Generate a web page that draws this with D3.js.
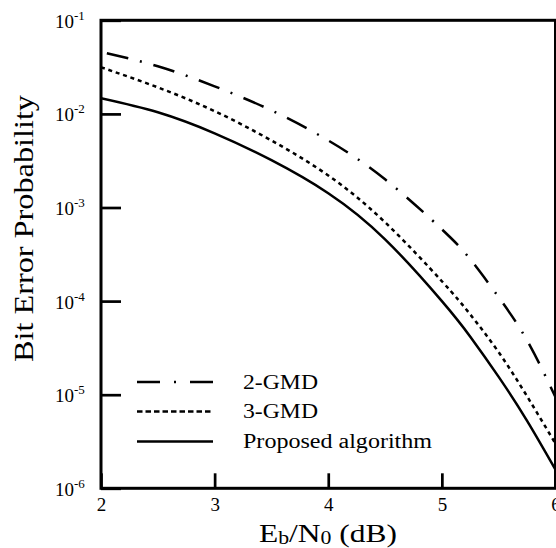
<!DOCTYPE html>
<html>
<head>
<meta charset="utf-8">
<script src="https://cdn.jsdelivr.net/npm/d3@7"></script>
<style>
  html, body { margin: 0; padding: 0; background: #fff; }
  svg { display: block; }
  text { font-family: "Liberation Serif", "Times New Roman", Times, serif; fill: #000; }
</style>
</head>
<body>
<script>
// Eb/N0 (dB) sample points
const snr = [2, 2.5, 3, 3.5, 4, 4.5, 5, 5.25, 5.5, 5.75, 6];
// Bit error probability per decoder
const gmd2 = [4.6e-2, 3.23e-2, 1.97e-2, 1.09e-2, 5.2e-3, 2.0e-3, 5.85e-4, 2.8e-4, 1.1e-4, 3.8e-5, 9.4e-6];
const gmd3 = [3.15e-2, 1.92e-2, 1.07e-2, 5.2e-3, 2.2e-3, 6.95e-4, 1.63e-4, 7.2e-5, 2.84e-5, 9.6e-6, 3.0e-6];
const proposed = [1.47e-2, 1.04e-2, 6.2e-3, 3.2e-3, 1.42e-3, 4.57e-4, 1.0e-4, 4.17e-5, 1.55e-5, 5.25e-6, 1.58e-6];

const seriesNames = ["2-GMD", "3-GMD", "Proposed algorithm"];
const xTicks = [2, 3, 4, 5, 6];
const yTicks = [1e-1, 1e-2, 1e-3, 1e-4, 1e-5, 1e-6];
const yTickExp = ["-1", "-2", "-3", "-4", "-5", "-6"];

const W = 556, H = 548;
const plotLeft = 101, plotRight = 555.5, plotTop = 20.3, plotBottom = 488.3;

const svg = d3.select("body").append("svg").attr("width", W).attr("height", H);

const x = d3.scaleLinear().domain([2, 6]).range([plotLeft, plotRight]);
const y = d3.scaleLog().domain([1e-6, 1e-1]).range([plotBottom, plotTop]);

// clip curves to the plot frame
svg.append("defs").append("clipPath").attr("id", "plot")
  .append("rect").attr("x", plotLeft).attr("y", plotTop)
  .attr("width", plotRight - plotLeft).attr("height", plotBottom - plotTop);

const styles = [
  { data: gmd2, dash: "22,12,2,12", offset: 42, legendDash: "23,14,2,14" },
  { data: gmd3, dash: "4,3.8", offset: 0, legendDash: "5.5,3" },
  { data: proposed, dash: null, offset: 0, legendDash: null }
];

const line = d3.line()
  .x((d, i) => x(snr[i]))
  .y(d => y(d))
  .curve(d3.curveNatural);

const curves = svg.append("g").attr("clip-path", "url(#plot)");
styles.forEach(s => {
  curves.append("path")
    .attr("d", line(s.data))
    .attr("fill", "none")
    .attr("stroke", "#000")
    .attr("stroke-width", 2.5)
    .attr("stroke-dasharray", s.dash)
    .attr("stroke-dashoffset", s.offset);
});

// axes with inward ticks
const xAxis = d3.axisBottom(x).tickValues(xTicks).tickSize(-15).tickFormat(d3.format("d"));
const gx = svg.append("g").attr("transform", `translate(0,${plotBottom})`).call(xAxis);
gx.select(".domain").remove();
gx.selectAll(".tick line").attr("stroke", "#000").attr("stroke-width", 2.7);
gx.selectAll(".tick text")
  .attr("y", 22.5).attr("dy", null)
  .style("font-size", "19px");

const yAxis = d3.axisLeft(y).tickValues(yTicks).tickSize(-20).tickFormat(() => "");
const gy = svg.append("g").attr("transform", `translate(${plotLeft},0)`).call(yAxis);
gy.select(".domain").remove();
gy.selectAll(".tick line").attr("stroke", "#000").attr("stroke-width", 2.7);
gy.selectAll(".tick text").each(function(d, i) {
  const t = d3.select(this)
    .attr("text-anchor", "start")
    .attr("x", 55 - plotLeft).attr("dy", null).attr("y", 7)
    .style("font-size", "19px");
  t.text(null);
  t.append("tspan").text("10");
  t.append("tspan").attr("dy", -8).style("font-size", "13px").text(yTickExp[i]);
});

// plot frame
svg.append("rect")
  .attr("x", plotLeft).attr("y", plotTop)
  .attr("width", plotRight - plotLeft).attr("height", plotBottom - plotTop)
  .attr("fill", "none").attr("stroke", "#000").attr("stroke-width", 3);

// legend
const legendY = [382, 411.5, 441.5];
const legend = svg.append("g");
styles.forEach((s, i) => {
  legend.append("line")
    .attr("x1", 137).attr("x2", 213)
    .attr("y1", legendY[i]).attr("y2", legendY[i])
    .attr("stroke", "#000").attr("stroke-width", 2.5)
    .attr("stroke-dasharray", s.legendDash);
  legend.append("text")
    .attr("x", 243).attr("y", legendY[i] + 6.5)
    .style("font-size", "20px")
    .attr("textLength", i === 2 ? 189 : 75)
    .attr("lengthAdjust", "spacingAndGlyphs")
    .text(seriesNames[i]);
});

// axis titles
const xt = svg.append("text")
  .attr("x", 259).attr("y", 542)
  .style("font-size", "26px")
  .attr("textLength", 138)
  .attr("lengthAdjust", "spacingAndGlyphs");
xt.append("tspan").text("E");
xt.append("tspan").attr("dy", 2).style("font-size", "18px").text("b");
xt.append("tspan").attr("dy", -2).text("/N");
xt.append("tspan").attr("dy", 2).style("font-size", "18px").text("0");
xt.append("tspan").attr("dy", -2).text(" (dB)");

svg.append("text")
  .attr("transform", "translate(33,228.5) rotate(-90)")
  .attr("text-anchor", "middle")
  .style("font-size", "28px")
  .attr("textLength", 267)
  .attr("lengthAdjust", "spacingAndGlyphs")
  .text("Bit Error Probability");
</script>
</body>
</html>
